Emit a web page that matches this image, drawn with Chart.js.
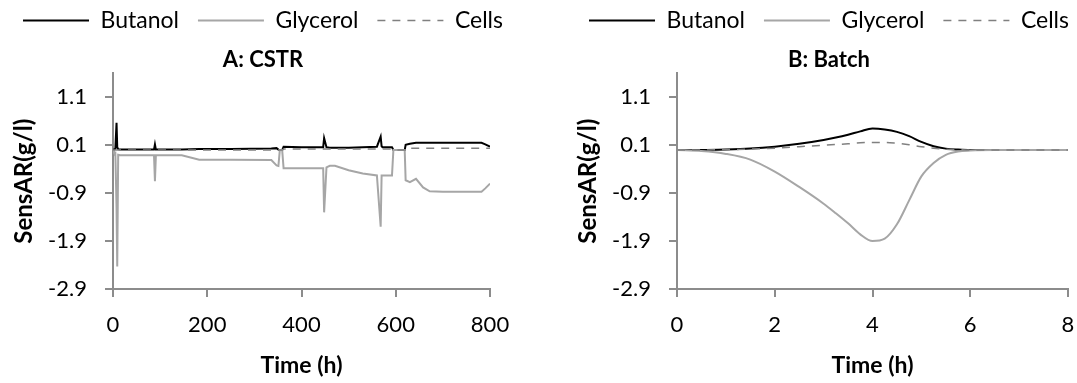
<!DOCTYPE html>
<html>
<head>
<meta charset="utf-8">
<script src="https://cdn.jsdelivr.net/npm/chart.js@4.4.0/dist/chart.umd.min.js"></script>
<style>
  html, body { margin: 0; padding: 0; background: #fff; overflow: hidden; }
  #wrap { position: relative; width: 1077px; height: 383px; overflow: hidden; }
  canvas { position: absolute; top: 0; }
</style>
</head>
<body>
<div id="wrap">
  <canvas id="cstr" width="526" height="383" style="left:0"></canvas>
  <canvas id="batch" width="530" height="383" style="left:564px"></canvas>
</div>
<script>
// Tick values shared by both panels
var yTicks = [-2.9, -1.9, -0.9, 0.1, 1.1];

// A: CSTR (time in h)
var cstrTime = [0, 2, 5, 7.5, 9, 11, 15, 60, 87, 89, 91, 146, 183, 250, 336, 347, 351, 354, 359, 362,
    400, 446, 448, 453, 460, 471, 500, 530, 560, 568, 570, 572, 592, 595, 619, 621, 630, 643, 658, 672,
    700, 782, 790, 800];
var cstrButanol = [0, 0.01, 0.03, 0.57, 0.06, 0.02, 0.01, 0.01, 0.01, 0.12, 0.01, 0.01, 0.02, 0.02, 0.03, 0.04, 0.01, 0, 0, 0.07,
    0.06, 0.06, 0.25, 0.06, 0.05, 0.05, 0.05, 0.06, 0.07, 0.28, 0.08, 0.06, 0.06, 0, 0, 0.11, 0.13, 0.15, 0.15, 0.15,
    0.15, 0.15, 0.12, 0.07];
var cstrGlycerol = [0, -0.05, -0.05, -1.2, -2.43, -0.1, -0.11, -0.11, -0.11, -0.65, -0.11, -0.11, -0.2, -0.2, -0.21, -0.32, -0.33, 0, 0, -0.38,
    -0.38, -0.38, -1.3, -0.36, -0.33, -0.33, -0.42, -0.49, -0.53, -1.6, -0.53, -0.53, -0.53, 0, 0, -0.63, -0.67, -0.6, -0.78, -0.86,
    -0.87, -0.87, -0.8, -0.7];
var cstrCells = [0, 0, 0, 0, 0, 0, 0, 0, 0, 0, 0, 0, 0, 0, 0, 0, 0, 0, 0, 0.02,
    0.02, 0.02, 0.02, 0.02, 0.02, 0.02, 0.02, 0.02, 0.02, 0.02, 0.02, 0.02, 0.02, 0, 0, 0.04, 0.04, 0.04, 0.04, 0.04,
    0.04, 0.04, 0.04, 0.04];

// B: Batch (time in h)
var batchTime = [0, 0.5, 1, 1.5, 2, 2.5, 3, 3.25, 3.5, 3.75, 4, 4.25, 4.5, 4.75, 5, 5.25, 5.5, 5.75, 6, 6.5, 7, 7.5, 8];
var batchButanol = [0, 0, 0.01, 0.03, 0.07, 0.13, 0.21, 0.26, 0.32, 0.39, 0.45, 0.43, 0.38, 0.29, 0.17, 0.08, 0.03, 0.01, 0, 0, 0, 0, 0];
var batchGlycerol = [0, -0.02, -0.08, -0.2, -0.45, -0.77, -1.12, -1.32, -1.53, -1.76, -1.9, -1.85, -1.55, -1.05, -0.55, -0.27, -0.1, -0.03, -0.01, 0, 0, 0, 0];
var batchCells = [0, 0, 0.01, 0.02, 0.04, 0.07, 0.1, 0.115, 0.13, 0.15, 0.16, 0.16, 0.14, 0.11, 0.07, 0.04, 0.02, 0.01, 0, 0, 0, 0, 0];

var FONT = 'Lato, "Open Sans", sans-serif';
var AXIS = '#8c8c8c';

// legend entries drawn as a line sample with the dataset's own stroke
function lineLabels(chart) {
    return Chart.defaults.plugins.legend.labels.generateLabels(chart).map(function (item) {
        var ds = chart.data.datasets[item.datasetIndex];
        item.strokeStyle = ds.borderColor;
        item.lineWidth = ds.borderWidth;
        item.lineDash = ds.borderDash || [];
        return item;
    });
}

function makeChart(id, title, time, butanol, glycerol, cells, xMax, xStep, padRight, smooth) {
    var pts = function (ys) {
        return time.map(function (t, i) { return { x: t, y: ys[i] }; });
    };

    // last series in Excel is drawn on top, so lower order = on top here
    var datasets = [
        { label: 'Butanol', data: pts(butanol), borderColor: '#000000', backgroundColor: '#000000', borderWidth: 2, order: 2 },
        { label: 'Glycerol', data: pts(glycerol), borderColor: '#a6a6a6', backgroundColor: '#a6a6a6', borderWidth: 2, order: 1 },
        { label: 'Cells', data: pts(cells), borderColor: '#808080', backgroundColor: '#808080', borderWidth: 1.5, borderDash: [8, 7], order: 0 }
    ];

    return new Chart(document.getElementById(id), {
        type: 'line',
        data: { datasets: datasets },
        options: {
            responsive: false,
            animation: false,
            devicePixelRatio: 1,
            layout: { padding: { top: -10, left: 0, right: 0, bottom: 0 } },
            elements: {
                point: { radius: 0 },
                line: { tension: 0, cubicInterpolationMode: smooth ? 'monotone' : 'default' }
            },
            plugins: {
                legend: {
                    position: 'top',
                    labels: {
                        usePointStyle: true,
                        pointStyle: 'line',
                        pointStyleWidth: 66,
                        padding: 19,
                        color: '#000',
                        font: { family: FONT, size: 23 },
                        generateLabels: lineLabels,
                        sort: function (a, b) { return a.datasetIndex - b.datasetIndex; }
                    }
                },
                title: {
                    display: true,
                    text: title,
                    weight: 500,
                    color: '#000',
                    font: { family: FONT, size: 22, weight: 'bold' },
                    padding: { top: 5, bottom: 0 }
                },
                tooltip: { enabled: false }
            },
            scales: {
                x: {
                    type: 'linear',
                    min: 0,
                    max: xMax,
                    ticks: { stepSize: xStep, color: '#000', font: { family: FONT, size: 22 }, padding: 15, maxRotation: 0 },
                    grid: { drawOnChartArea: false, color: AXIS, lineWidth: 2, tickLength: 8 },
                    border: { color: AXIS, width: 2 },
                    title: {
                        display: true,
                        text: 'Time (h)',
                        color: '#000',
                        font: { family: FONT, size: 23, weight: 'bold' },
                        padding: { top: 0, bottom: 4 }
                    },
                    afterFit: function (s) {
                        s.height = 94;
                        s.paddingLeft = 0;
                        s.paddingRight = padRight;
                    }
                },
                y: {
                    min: -2.9,
                    max: 1.6,
                    afterBuildTicks: function (s) {
                        s.ticks = yTicks.map(function (v) { return { value: v }; });
                    },
                    ticks: {
                        color: '#000',
                        font: { family: FONT, size: 22 },
                        padding: 18,
                        callback: function (v) { return Number(v).toFixed(1); }
                    },
                    grid: { drawOnChartArea: false, color: AXIS, lineWidth: 2, tickLength: 8 },
                    border: { color: AXIS, width: 2 },
                    title: {
                        display: true,
                        text: 'SensAR(g/l)',
                        color: '#000',
                        font: { family: FONT, size: 24, weight: 'bold' },
                        padding: { top: 10, bottom: 0 }
                    },
                    afterFit: function (s) {
                        s.width = 113;
                        s.paddingTop = 0;
                        s.paddingBottom = 0;
                    }
                }
            }
        }
    });
}

makeChart('cstr', 'A: CSTR', cstrTime, cstrButanol, cstrGlycerol, cstrCells, 800, 200, 36, false);
makeChart('batch', 'B: Batch', batchTime, batchButanol, batchGlycerol, batchCells, 8, 2, 26, true);
</script>
</body>
</html>
